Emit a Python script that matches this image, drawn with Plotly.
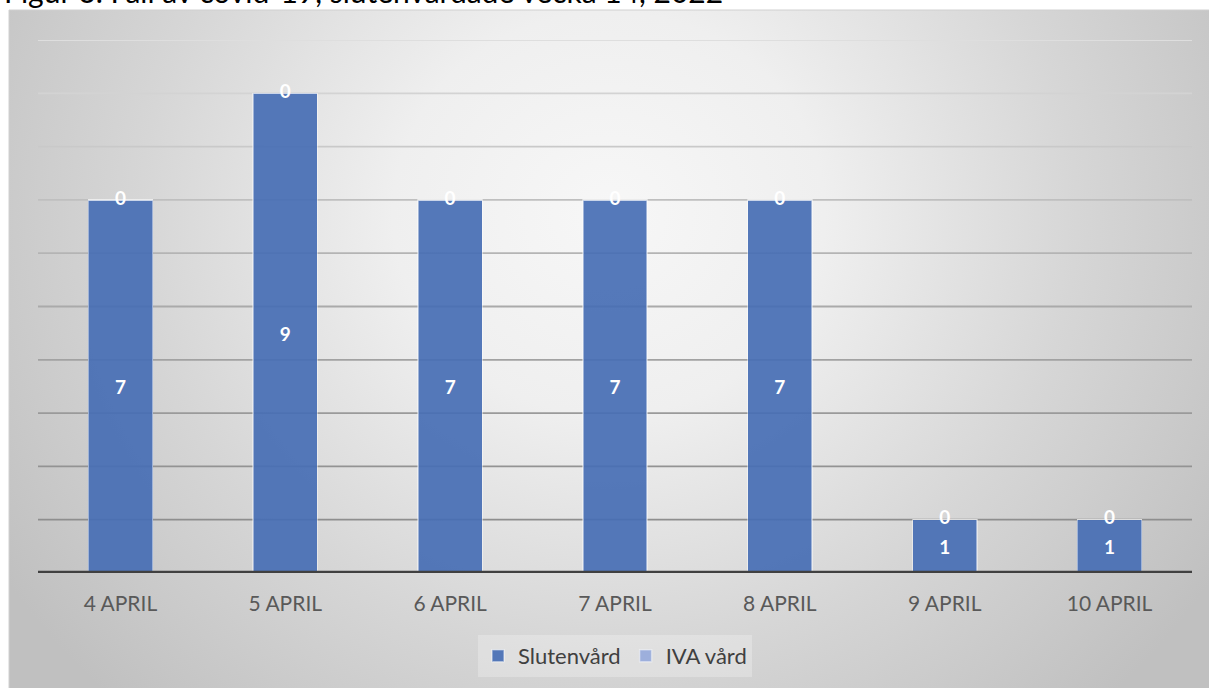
import base64
import plotly.graph_objects as go

# ---- data ----
categories = ["4 APRIL", "5 APRIL", "6 APRIL", "7 APRIL", "8 APRIL", "9 APRIL", "10 APRIL"]
slutenvard = [7, 9, 7, 7, 7, 1, 1]
iva_vard = [0, 0, 0, 0, 0, 0, 0]
grid_levels = [1, 2, 3, 4, 5, 6, 7, 8, 9, 10]
title_text = "Figur 3. Fall av covid-19, slutenvårdade vecka 14, 2022"

W, H = 1209, 688
FONT = "Lato, 'Open Sans', sans-serif"

# ---- background gradient (svg data uri) ----
svg = '''<svg xmlns="http://www.w3.org/2000/svg" width="1200" height="678" viewBox="0 0 1200 678" preserveAspectRatio="none">
<defs><radialGradient id="g" cx="0.5" cy="0.3" r="0.6" fx="0.5" fy="0.3"
 gradientTransform="translate(0.5,0.3) scale(1,1.65) translate(-0.5,-0.3)">
<stop offset="0" stop-color="#f7f7f7"/>
<stop offset="0.3" stop-color="#efefef"/>
<stop offset="0.65" stop-color="#d6d6d6"/>
<stop offset="1" stop-color="#c0c0c0"/>
</radialGradient></defs>
<rect x="0" y="0" width="1200" height="678" fill="url(#g)"/>
</svg>'''
svg_uri = "data:image/svg+xml;base64," + base64.b64encode(svg.encode()).decode()

fig = go.Figure()

fig.add_trace(go.Bar(
    name="Slutenvård", x=categories, y=slutenvard,
    marker=dict(color="rgba(70,110,180,0.92)", line=dict(color="rgba(255,255,255,0.45)", width=1.5)),
    text=[str(v) for v in slutenvard], textposition="inside", insidetextanchor="middle",
    textfont=dict(color="white", size=19, family=FONT, weight="bold"),
    textangle=0, constraintext="none", width=0.39,
))
fig.add_trace(go.Bar(
    name="IVA vård", x=categories, y=iva_vard,
    marker=dict(color="#9dafdc", line=dict(color="rgba(255,255,255,0.45)", width=1.5)),
    width=0.39, hoverinfo="skip",
))
# labels for the IVA segment (value 0) placed at top of stack
fig.add_trace(go.Scatter(
    x=categories, y=[s + v / 2 for s, v in zip(slutenvard, iva_vard)],
    mode="text", text=[str(v) for v in iva_vard],
    textfont=dict(color="white", size=19, family=FONT, weight="bold"),
    showlegend=False, hoverinfo="skip", cliponaxis=False,
))

grid_colors = ["#8e8e8e", "#939393", "#9a9a9a", "#a2a2a2", "#aaaaaa",
               "#b4b4b4", "#bfbfbf", "#c9c9c9", "#d3d3d3", "#dedede"]
shapes = []
for lvl, col in zip(grid_levels, grid_colors):
    shapes.append(dict(type="line", xref="x domain", yref="y", x0=0, x1=1, y0=lvl, y1=lvl,
                       line=dict(color=col, width=1.8), layer="below"))
# axis line
shapes.append(dict(type="line", xref="x domain", yref="y", x0=0, x1=1, y0=0, y1=0,
                   line=dict(color="#404040", width=4.5), layer="above"))
# chart frame top/left edge
shapes.append(dict(type="rect", xref="paper", yref="paper", x0=9 / W, x1=1.01, y0=-0.01, y1=1 - 10 / H,
                   line=dict(color="#d0d0d0", width=1), fillcolor="rgba(0,0,0,0)", layer="below"))

fig.update_layout(
    width=W, height=H,
    margin=dict(l=0, r=0, t=0, b=0),
    paper_bgcolor="white", plot_bgcolor="rgba(0,0,0,0)",
    barmode="stack", bargap=0.61,
    font=dict(family=FONT, color="#595959"),
    images=[dict(source=svg_uri, xref="paper", yref="paper", x=9 / W, y=1 - 10 / H,
                 sizex=1 - 9 / W, sizey=1 - 10 / H, xanchor="left", yanchor="top",
                 sizing="stretch", layer="below")],
    shapes=shapes,
    xaxis=dict(domain=[38 / W, 1192 / W], showgrid=False, showline=False, zeroline=False,
               tickfont=dict(size=21, color="#595959", family=FONT),
               ticks="outside", ticklen=12, tickcolor="rgba(0,0,0,0)"),
    yaxis=dict(domain=[(H - 573) / H, (H - 40) / H], range=[0, 10], showgrid=False,
               showticklabels=False, zeroline=False, showline=False),
    legend=dict(orientation="h", x=615 / W, xanchor="center", y=(H - 656) / H, yanchor="middle",
                bgcolor="rgba(255,255,255,0.25)", font=dict(size=22, color="#404040", family=FONT),
                traceorder="normal", itemwidth=30),
    annotations=[dict(text=title_text, xref="paper", yref="paper", x=2 / W, xanchor="left",
                      y=1 + 9 / H, yanchor="middle", showarrow=False,
                      font=dict(size=30, color="black", family=FONT))],
)

fig.write_html("out.html", config={"displayModeBar": False},
               post_script="document.body.style.margin='0';document.body.style.overflow='hidden';")
